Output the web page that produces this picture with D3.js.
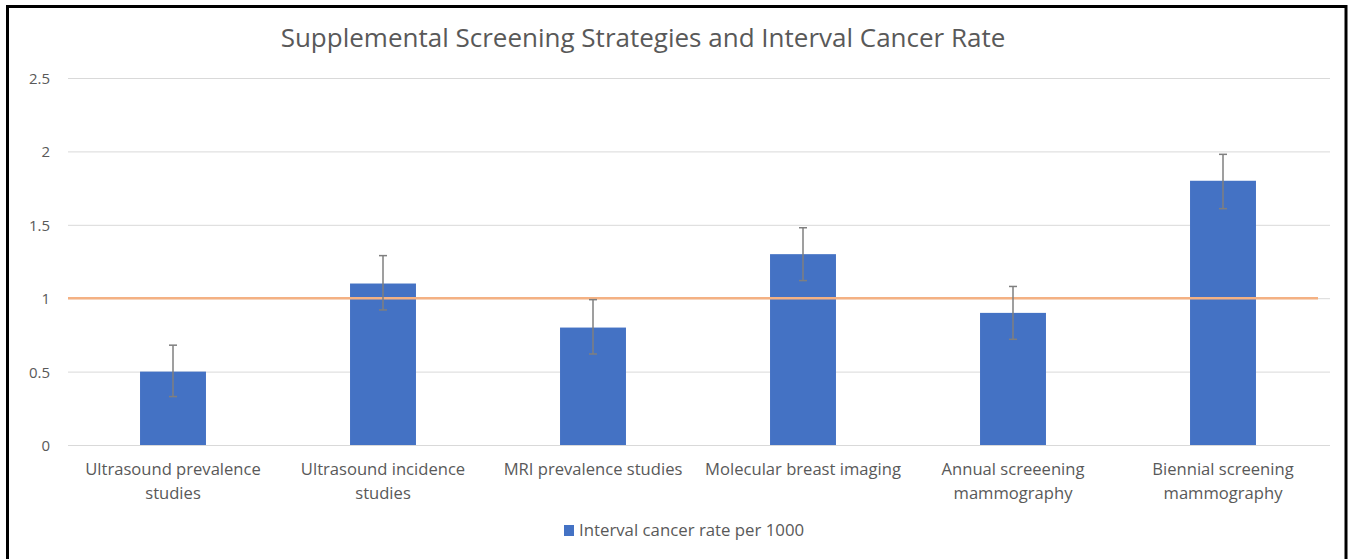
<!DOCTYPE html>
<html>
<head>
<meta charset="utf-8">
<script src="https://cdn.jsdelivr.net/npm/d3@7"></script>
<style>
  html, body { margin: 0; padding: 0; background: #fff; }
  svg { display: block; }
  text { font-family: "Open Sans", Lato, sans-serif; fill: #595959; }
</style>
</head>
<body>
<svg id="chart" width="1349" height="559"></svg>
<script>
const categories = [
  ["Ultrasound prevalence", "studies"],
  ["Ultrasound incidence", "studies"],
  ["MRI prevalence studies"],
  ["Molecular breast imaging"],
  ["Annual screeening", "mammography"],
  ["Biennial screening", "mammography"]
];
const values = [0.5, 1.1, 0.8, 1.3, 0.9, 1.8];
const errUpper = [0.18, 0.19, 0.19, 0.18, 0.18, 0.18];
const errLower = [0.17, 0.18, 0.18, 0.18, 0.18, 0.19];
const referenceValue = 1;
const yTicks = [0, 0.5, 1, 1.5, 2, 2.5];
const seriesName = "Interval cancer rate per 1000";
const title = "Supplemental Screening Strategies and Interval Cancer Rate";

(function () {
const svg = d3.select("#chart");
const pLeft = 68, pRight = 1328, pTop = 78, pBottom = 445;

// border
svg.append("rect").attr("x", 7.5).attr("y", 6.5).attr("width", 1338.5).attr("height", 560)
  .attr("fill", "none").attr("stroke", "#000").attr("stroke-width", 3);

const x = d3.scaleBand().domain(d3.range(categories.length)).range([pLeft, pRight]).paddingInner(0.686).paddingOuter(0.343);
const y = d3.scaleLinear().domain([0, 2.5]).range([pBottom, pTop]);

// gridlines
const yAxis = d3.axisLeft(y).tickValues(yTicks).tickSize(-(pRight - pLeft + 2)).tickFormat(d3.format(""));
const gy = svg.append("g").attr("transform", `translate(${pLeft},0)`).call(yAxis);
gy.select(".domain").remove();
gy.selectAll(".tick line").attr("stroke", "#d9d9d9").attr("stroke-width", 1);
gy.selectAll(".tick text").attr("x", -18).attr("dy", "0.36em")
  .style("font-size", "15px").style("fill", "#595959");

// bars
svg.append("g").selectAll("rect").data(values).join("rect")
  .attr("x", (d, i) => x(i)).attr("width", x.bandwidth())
  .attr("y", d => y(d)).attr("height", d => y(0) - y(d))
  .attr("fill", "#4472c4");

// reference line
svg.append("line")
  .attr("x1", pLeft).attr("x2", pRight - 10)
  .attr("y1", y(referenceValue)).attr("y2", y(referenceValue))
  .attr("stroke", "#f4b183").attr("stroke-width", 2.5);

// error bars
const eg = svg.append("g").attr("stroke", "#7f7f7f").attr("stroke-width", 1.5);
values.forEach((v, i) => {
  const cx = x(i) + x.bandwidth() / 2;
  const y1 = y(v + errUpper[i]), y2 = y(v - errLower[i]);
  eg.append("line").attr("x1", cx).attr("x2", cx).attr("y1", y1).attr("y2", y2);
  eg.append("line").attr("x1", cx - 4).attr("x2", cx + 4).attr("y1", y1).attr("y2", y1);
  eg.append("line").attr("x1", cx - 4).attr("x2", cx + 4).attr("y1", y2).attr("y2", y2);
});

// category labels
const xAxis = d3.axisBottom(x).tickSize(0).tickFormat("");
const gx = svg.append("g").attr("transform", `translate(0,${pBottom})`).call(xAxis);
gx.select(".domain").attr("stroke", "#d9d9d9");
gx.selectAll(".tick").each(function(d) {
  const t = d3.select(this).append("text").attr("text-anchor", "middle")
    .style("font-size", "16.6px").style("fill", "#595959");
  categories[d].forEach((line, j) => {
    t.append("tspan").attr("x", 0).attr("y", 30 + j * 24).text(line);
  });
});

// title
svg.append("text").attr("x", 643).attr("y", 47).attr("text-anchor", "middle")
  .style("font-size", "26px").style("fill", "#595959").text(title);

// legend
svg.append("rect").attr("x", 564).attr("y", 525).attr("width", 10).attr("height", 11).attr("fill", "#4472c4");
svg.append("text").attr("x", 579).attr("y", 536).style("font-size", "16.8px").style("fill", "#595959").text(seriesName);
})();
</script>
</body>
</html>
